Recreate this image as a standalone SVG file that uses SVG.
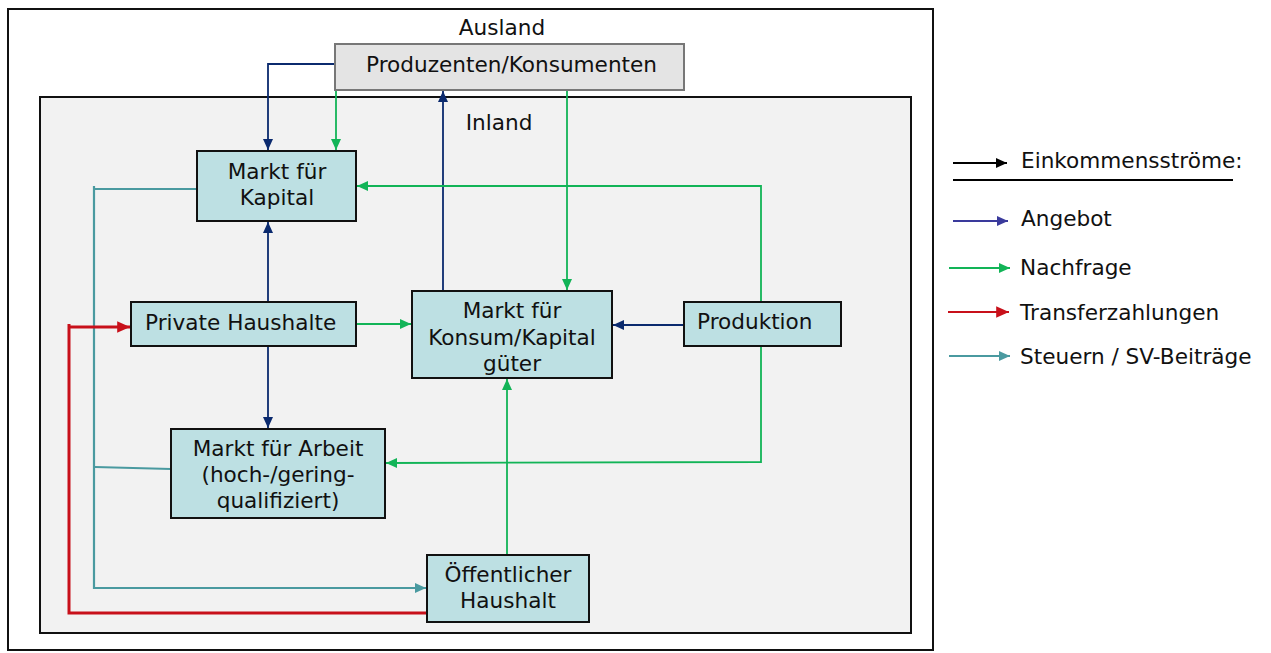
<svg xmlns="http://www.w3.org/2000/svg" width="1271" height="653" viewBox="0 0 1271 653">
<style>
text{font-family:"DejaVu Sans","Verdana",sans-serif;font-size:21.6px;fill:#111}
.c{text-anchor:middle}
.box{fill:#bde0e3;stroke:#111;stroke-width:2}
.ln{fill:none}
.blue{stroke:#0b2a6e;stroke-width:1.8}
.green{stroke:#12b457;stroke-width:1.8}
.red{stroke:#c8101a;stroke-width:3}
.teal{stroke:#4a9aa0;stroke-width:2.2}
</style>
<defs>
<marker id="aBlue" markerUnits="userSpaceOnUse" markerWidth="12" markerHeight="12" viewBox="0 0 12 12" refX="11" refY="6" orient="auto"><path d="M0,1 L11,6 L0,11 Z" fill="#0b2a6e"/></marker>
<marker id="aGreen" markerUnits="userSpaceOnUse" markerWidth="12" markerHeight="12" viewBox="0 0 12 12" refX="11" refY="6" orient="auto"><path d="M0,1 L11,6 L0,11 Z" fill="#12b457"/></marker>
<marker id="aRed" markerUnits="userSpaceOnUse" markerWidth="14" markerHeight="14" viewBox="0 0 12 12" refX="11" refY="6" orient="auto"><path d="M0,1 L11,6 L0,11 Z" fill="#c8101a"/></marker>
<marker id="aTeal" markerUnits="userSpaceOnUse" markerWidth="12" markerHeight="12" viewBox="0 0 12 12" refX="11" refY="6" orient="auto"><path d="M0,1 L11,6 L0,11 Z" fill="#4a9aa0"/></marker>
<marker id="aBlack" markerUnits="userSpaceOnUse" markerWidth="12" markerHeight="12" viewBox="0 0 12 12" refX="11" refY="6" orient="auto"><path d="M0,1 L11,6 L0,11 Z" fill="#000"/></marker>
<marker id="aIndigo" markerUnits="userSpaceOnUse" markerWidth="12" markerHeight="12" viewBox="0 0 12 12" refX="11" refY="6" orient="auto"><path d="M0,1 L11,6 L0,11 Z" fill="#3a3a9c"/></marker>
</defs>
<rect width="1271" height="653" fill="#fff"/>
<g id="ausland">
<rect x="8" y="9" width="925" height="641" fill="#fff" stroke="#111" stroke-width="2"/>
<text class="c" x="502" y="35">Ausland</text>
</g>
<g id="inland">
<rect x="40" y="97" width="871" height="536" fill="#f2f2f2" stroke="#111" stroke-width="2"/>
<text class="c" x="499" y="130">Inland</text>
</g>
<g id="connectors">
<path class="ln blue" d="M335,64 H268 V150" marker-end="url(#aBlue)"/>
<path class="ln green" d="M336,90 V150" marker-end="url(#aGreen)"/>
<path class="ln blue" d="M443,291 V91" marker-end="url(#aBlue)"/>
<path class="ln green" d="M567,90 V290" marker-end="url(#aGreen)"/>
<path class="ln blue" d="M268,302 V222" marker-end="url(#aBlue)"/>
<path class="ln blue" d="M268,346 V428" marker-end="url(#aBlue)"/>
<path class="ln green" d="M356,324 H411" marker-end="url(#aGreen)"/>
<path class="ln blue" d="M684,325 H613" marker-end="url(#aBlue)"/>
<path class="ln green" d="M761,302 V186 H357" marker-end="url(#aGreen)"/>
<path class="ln green" d="M761,346 V462 L386,463" marker-end="url(#aGreen)"/>
<path class="ln green" d="M507,555 V379" marker-end="url(#aGreen)"/>
<path class="ln teal" d="M197,189 L94,189 M94,186 V588 H426" marker-end="url(#aTeal)"/>
<path class="ln teal" d="M95,467 L171,469"/>
<path class="ln red" d="M427,613 H69 V324 M69,327 H130" marker-end="url(#aRed)"/>
</g>
<g id="produzenten">
<rect x="335" y="44" width="349" height="46" fill="#e4e4e4" stroke="#777" stroke-width="2"/>
<text x="366" y="72">Produzenten/Konsumenten</text>
</g>
<g id="kapital">
<rect class="box" x="197" y="151" width="159" height="70"/>
<text class="c" x="277" y="179">Markt für</text>
<text class="c" x="277" y="205">Kapital</text>
</g>
<g id="haushalte">
<rect class="box" x="131" y="302" width="225" height="44"/>
<text x="145" y="330">Private Haushalte</text>
</g>
<g id="konsum">
<rect class="box" x="412" y="291" width="200" height="87"/>
<text class="c" x="512" y="318">Markt für</text>
<text class="c" x="512" y="345">Konsum/Kapital</text>
<text class="c" x="512" y="371">güter</text>
</g>
<g id="produktion">
<rect class="box" x="684" y="302" width="157" height="44"/>
<text x="697" y="329">Produktion</text>
</g>
<g id="arbeit">
<rect class="box" x="171" y="429" width="214" height="89"/>
<text class="c" x="278" y="456">Markt für Arbeit</text>
<text class="c" x="278" y="482">(hoch-/gering-</text>
<text class="c" x="278" y="508">qualifiziert)</text>
</g>
<g id="oeffentlich">
<rect class="box" x="427" y="555" width="162" height="67"/>
<text class="c" x="508" y="582">Öffentlicher</text>
<text class="c" x="508" y="608">Haushalt</text>
</g>
<g id="legend">
<path class="ln" stroke="#000" stroke-width="1.8" d="M953,163 H1007" marker-end="url(#aBlack)"/>
<text x="1021" y="168">Einkommensströme:</text>
<path class="ln" stroke="#000" stroke-width="1.8" d="M953,180 H1233"/>
<path class="ln" stroke="#3a3a9c" stroke-width="1.8" d="M953,221 H1008" marker-end="url(#aIndigo)"/>
<text x="1021" y="226">Angebot</text>
<path class="ln green" d="M949,268 H1010" marker-end="url(#aGreen)"/>
<text x="1020" y="275">Nachfrage</text>
<path class="ln" stroke="#c8101a" stroke-width="1.8" d="M948,312 H1009" marker-end="url(#aRed)"/>
<text x="1020" y="320">Transferzahlungen</text>
<path class="ln teal" d="M949,356 H1010" marker-end="url(#aTeal)"/>
<text x="1020" y="364">Steuern / SV-Beiträge</text>
</g>
</svg>
